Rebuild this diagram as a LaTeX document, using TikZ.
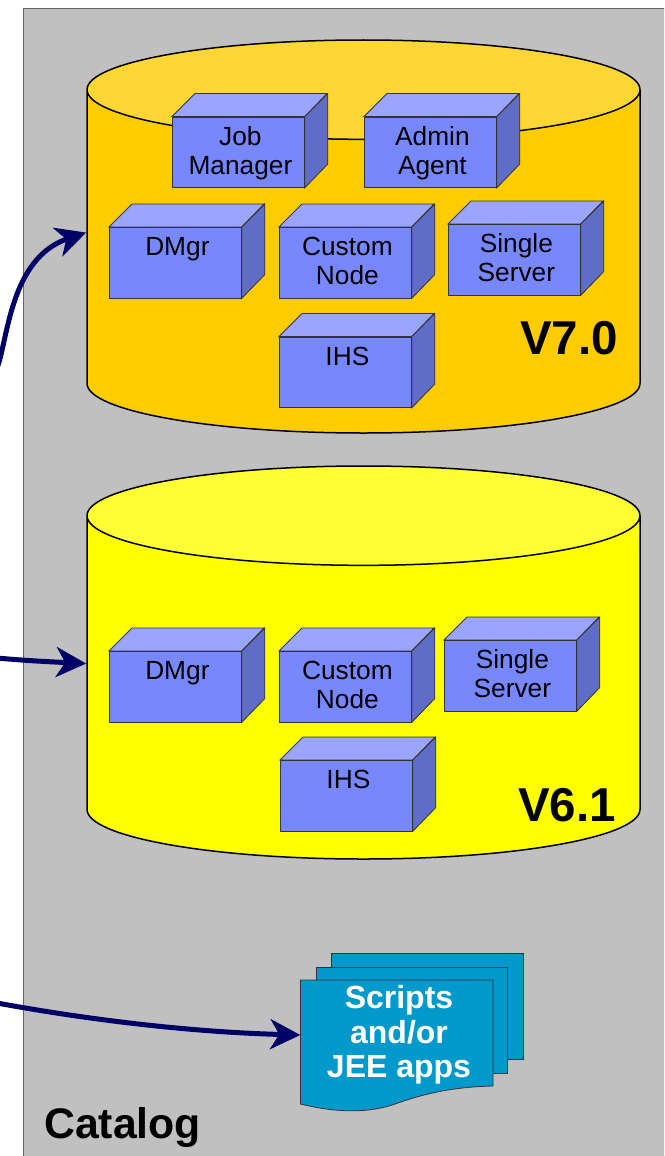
\documentclass[tikz,border=0pt]{standalone}
\usepackage{fontspec}
\setmainfont{Liberation Sans}
\usetikzlibrary{arrows.meta,shapes.geometric,positioning,calc}

\definecolor{panelgray}{HTML}{C0C0C0}
\definecolor{paneledge}{HTML}{666666}
\definecolor{gold}{HTML}{FFCC00}
\definecolor{goldtop}{HTML}{FFD633}
\definecolor{brightyellow}{HTML}{FFFF00}
\definecolor{yellowtop}{HTML}{FFFF33}
\definecolor{boxfront}{HTML}{7788FF}
\definecolor{boxtop}{HTML}{99A5FF}
\definecolor{boxside}{HTML}{5F6DC7}
\definecolor{docblue}{HTML}{0099CC}
\definecolor{arrownavy}{HTML}{000066}

\begin{document}
\begin{tikzpicture}[
    x=1pt, y=-1pt,
    store/.style={cylinder, shape border rotate=90, anchor=shape center, draw=black, line width=1.5pt, aspect=14.9, minimum width=553pt, minimum height=393pt, cylinder uses custom fill},
    appbox/.style={rectangle, draw=black!80, line width=0.8pt, fill=boxfront, text width=132pt, text height=20pt, text depth=34pt, minimum height=70.5pt, inner sep=0pt, anchor=north west, align=center, font=\fontsize{26.3}{29}\selectfont,
        execute at begin node={\advance\leftskip by 4pt},
        append after command={\pgfextra{
            \draw[draw=black!80, line width=0.8pt, fill=boxtop] (\tikzlastnode.north west) -- ++(23,-23) -- ++(132,0) -- (\tikzlastnode.north east) -- cycle;
            \draw[draw=black!80, line width=0.8pt, fill=boxside] (\tikzlastnode.north east) -- ++(23,-23) -- ++(0,70.5) -- (\tikzlastnode.south east) -- cycle;
        }}},
    docsheet/.style={draw=black!80, line width=0.8pt, fill=docblue},
    version/.style={font=\fontsize{47.5}{50}\selectfont\bfseries},
    feed/.style={-{Stealth[length=30pt,width=30pt,inset=9pt]}, line width=5pt, arrownavy}
]
\useasboundingbox (0,0) rectangle (664,1156);
\clip (0,0) rectangle (664,1156);

% Catalog panel
\node[rectangle, draw=paneledge, line width=1.2pt, fill=panelgray, minimum width=660pt, minimum height=1170pt, inner sep=0pt, anchor=north west] (panel) at (23,8) {};
\node[anchor=west, inner sep=0pt, font=\fontsize{42.8}{46}\selectfont\bfseries] (catalog) at (44,1128) {Catalog};

% V7.0 store
\node[store, cylinder body fill=gold, cylinder end fill=goldtop] (v70) at (363.5,236.5) {};
\node[version] (v70label) at (569,338) {V7.0};
\node[appbox] (jobmgr) at (172,116.5) {Job\\Manager};
\node[appbox] (adminagent) at (364,116.5) {Admin\\Agent};
\node[appbox] (dmgr70) at (109,227) {DMgr\\~};
\node[appbox] (custom70) at (279,227) {Custom\\Node};
\node[appbox] (single70) at (448,224) {Single\\Server};
\node[appbox] (ihs70) at (279,336.5) {IHS\\~};

% V6.1 store
\node[store, cylinder body fill=brightyellow, cylinder end fill=yellowtop] (v61) at (363.5,662.5) {};
\node[version] (v61label) at (567,805) {V6.1};
\node[appbox] (dmgr61) at (109,651) {DMgr\\~};
\node[appbox] (custom61) at (279,651) {Custom\\Node};
\node[appbox] (single61) at (444,640) {Single\\Server};
\node[appbox] (ihs61) at (280,760) {IHS\\~};

% Scripts stack
\draw[docsheet] (331,953) rectangle (523,1059.5);
\draw[docsheet] (316,967) rectangle (507.5,1073);
\draw[docsheet] (300.5,980) -- (493,980) -- (493,1086) .. controls (445,1087) and (415,1097) .. (395,1104) .. controls (375,1111) and (345,1115) .. (300.5,1104) -- cycle;
\node[inner sep=0pt, minimum width=197pt, align=center, text=white, font=\fontsize{32}{34.5}\selectfont\bfseries] (scripts) at (399,1035) {Scripts\\and/or\\JEE apps};

% Feeds from outside the panel
\coordinate (from70) at (-3,368);
\coordinate (from61) at (-3,658);
\coordinate (fromscripts) at (-3,1003);
\draw[feed] (from70) .. controls (8,340) and (10,258) .. ($(v70.west)+(0,-33)$);
\draw[feed] (from61) .. controls (30,661) and (55,662) .. ($(v61.west)+(0,-28)$);
\draw[feed] (fromscripts) .. controls (90,1020) and (190,1032) .. (scripts.west);

\end{tikzpicture}
\end{document}
